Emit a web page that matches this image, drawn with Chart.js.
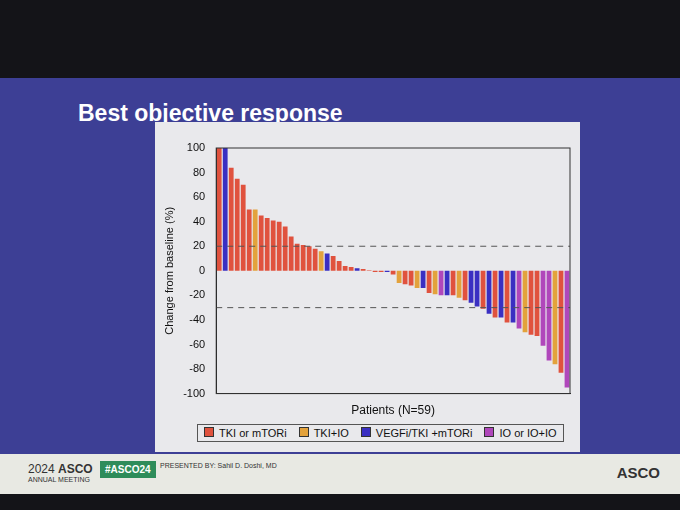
<!DOCTYPE html>
<html><head><meta charset="utf-8">
<script src="https://cdn.jsdelivr.net/npm/chart.js@4"></script>
<style>
body{margin:0;width:680px;height:510px;background:#141418;font-family:"Liberation Sans",Arial,sans-serif;overflow:hidden;position:relative}
#slide{position:absolute;left:0;top:78px;width:680px;height:380px;background:#3d3f95}
#title{position:absolute;left:78px;top:100px;color:#fff;font-weight:bold;font-size:23px}
#panel{position:absolute;left:155px;top:122px;width:425px;height:330px;background:#e9e9ec}
#wrap{position:absolute;left:0;top:0;width:425px;height:298px}
#legend{position:absolute;left:42px;top:302px;border:1px solid #555;padding:2px 6px;font-size:11px;color:#111;display:flex;gap:12px;white-space:nowrap}
#legend span i{display:inline-block;width:8px;height:8px;margin-right:5px;border:1px solid #333}
#footer{position:absolute;left:0;top:454px;width:680px;height:40px;background:#e8e9e3;font-size:10px;color:#333}
</style></head><body>
<div id="slide"></div>
<div id="title">Best objective response</div>
<div id="panel"><div id="wrap"><canvas id="c"></canvas></div><div id="legend"></div></div>
<div id="footer"><div style="position:absolute;left:28px;top:8px;font-size:12px">2024 <b>ASCO</b><div style="font-size:7px">ANNUAL MEETING</div></div>
<div style="position:absolute;left:100px;top:7px;background:#2e8c5a;color:#fff;padding:3px 5px;font-weight:bold">#ASCO24</div>
<div style="position:absolute;left:160px;top:8px;font-size:7px">PRESENTED BY: Sahil D. Doshi, MD</div>
<div style="position:absolute;right:20px;top:10px;font-size:15px;font-weight:bold;color:#333">ASCO</div></div>
<script>
// Best objective response per patient (% change from baseline)
const responses = [100,100,84,75,70,50,50,45,43,41,40,36,28,22,21,20,18,16,14,12,8,4,3,2,1.5,0.5,
  -1,-1,-1,-3,-10,-11,-12,-14,-14,-18,-19,-20,-20,-20,-22,-24,-26,-29,-31,-35,-38,-38,-42,-42,-47,-50,-52,-53,-61,-73,-76,-83,-95];
// R = TKI or mTORi, O = TKI+IO, B = VEGFi/TKI+mTORi, P = IO or IO+IO
const groups = ['R','B','R','R','R','R','O','R','R','R','R','R','R','R','R','R','R','O','B','R','R','R','R','B','R','R',
  'R','R','B','R','O','R','R','O','B','R','O','P','B','R','O','R','B','B','R','B','R','B','R','B','P','O','R','R','P','P','O','R','P'];
const groupNames = {R:'TKI or mTORi', O:'TKI+IO', B:'VEGFi/TKI +mTORi', P:'IO or IO+IO'};
const groupColors = {R:'#e0523e', O:'#e3a23c', B:'#3a2fc2', P:'#b047bb'};
const thresholds = [20, -30];

const dashLines = {
  id: 'dashLines',
  afterDatasetsDraw(chart) {
    const {ctx, chartArea, scales} = chart;
    ctx.save();
    ctx.setLineDash([6, 5]);
    ctx.strokeStyle = '#555';
    ctx.lineWidth = 1;
    thresholds.forEach(v => {
      const y = scales.y.getPixelForValue(v);
      ctx.beginPath(); ctx.moveTo(chartArea.left, y); ctx.lineTo(chartArea.right, y); ctx.stroke();
    });
    // frame around plot area
    ctx.setLineDash([]);
    ctx.strokeStyle = '#333';
    ctx.strokeRect(chartArea.left, chartArea.top, chartArea.right - chartArea.left, chartArea.bottom - chartArea.top);
    ctx.restore();
  }
};

new Chart(document.getElementById('c'), {
  type: 'bar',
  data: {
    labels: responses.map((v, i) => i + 1),
    datasets: [{
      data: responses,
      backgroundColor: groups.map(g => groupColors[g]),
      categoryPercentage: 1, barPercentage: 0.8
    }]
  },
  options: {
    responsive: true, maintainAspectRatio: false, animation: false,
    layout: {padding: {top: 26, right: 10, left: 4}},
    plugins: {legend: {display: false}, tooltip: {enabled: false}},
    scales: {
      x: {ticks: {display: false}, grid: {display: false}, border: {color: '#222'},
          title: {display: true, text: 'Patients (N=59)', color: '#111', font: {size: 12}, padding: 2}},
      y: {min: -100, max: 100, ticks: {stepSize: 20, color: '#111', font: {size: 11}},
          grid: {display: false, drawTicks: true}, border: {color: '#222'},
          title: {display: true, text: 'Change from baseline (%)', color: '#111', font: {size: 11}}}
    }
  },
  plugins: [dashLines]
});

document.getElementById('legend').innerHTML = Object.keys(groupNames)
  .map(k => `<span><i style="background:${groupColors[k]}"></i>${groupNames[k]}</span>`).join('');
</script>
</body></html>
